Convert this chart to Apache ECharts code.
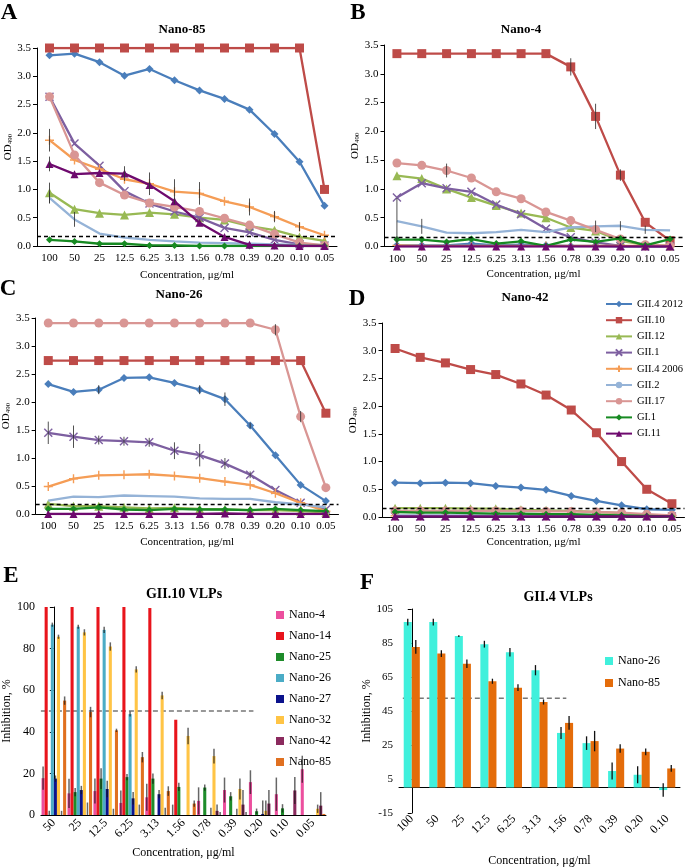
<!DOCTYPE html>
<html><head><meta charset="utf-8">
<script src="https://cdn.jsdelivr.net/npm/echarts@6/dist/echarts.min.js"></script>
<style>html,body{margin:0;padding:0;background:#fff}#c{width:687px;height:868px}</style>
</head><body><div id="c"></div><script>
const FONT = 'Liberation Serif';
// ---------- categories ----------
const concLine = ['100','50','25','12.5','6.25','3.13','1.56','0.78','0.39','0.20','0.10','0.05'];
const concE = ['50','25','12.5','6.25','3.13','1.56','0.78','0.39','0.20','0.10','0.05'];
const concF = ['100','50','25','12.5','6.25','3.13','1.56','0.78','0.39','0.20','0.10'];
const strainNames = ['GII.4 2012','GII.10','GII.12','GII.1','GII.4 2006','GII.2','GII.17','GI.1','GI.11'];
const panelTitles = ['Nano-85','Nano-4','Nano-26','Nano-42'];
const thresholds = [0.18, 0.16, 0.18, 0.16];
const yTicksLine = [0, 3.5, 0.5];
// ---------- Panel A: Nano-85 ----------
const A_GII4_2012 = [3.37,3.40,3.25,3.01,3.13,2.93,2.75,2.60,2.41,1.98,1.49,0.71];
const A_GII10 = [3.5,3.5,3.5,3.5,3.5,3.5,3.5,3.5,3.5,3.5,3.5,1.0];
const A_GII12 = [0.94,0.65,0.58,0.55,0.59,0.56,0.50,0.46,0.35,0.28,0.16,0.09];
const A_GII1 = [2.64,1.81,1.42,0.97,0.75,0.61,0.50,0.32,0.24,0.11,0.03,0.01];
const A_GII4_2006 = [1.87,1.52,1.36,1.18,1.10,0.96,0.93,0.79,0.69,0.52,0.34,0.19];
const A_GII2 = [0.85,0.47,0.22,0.15,0.11,0.08,0.06,0.05,0.04,0.03,0.02,0.02];
const A_GII17 = [2.64,1.61,1.12,0.90,0.76,0.69,0.61,0.49,0.37,0.21,0.06,0.01];
const A_GI1 = [0.11,0.08,0.04,0.04,0.01,0.01,0,0,0,0,0,0];
const A_GI11 = [1.45,1.27,1.29,1.28,1.08,0.79,0.41,0.16,0.02,0.01,0,0];
const A_err_GII4_2006 = [0.2,0,0,0,0.2,0.22,0.2,0,0.15,0.1,0.08,0];
const A_err_GI11 = [0.13,0,0,0.13,0,0,0,0,0,0,0,0];
const A_err_GII12 = [0.18,0,0,0,0,0,0,0,0,0,0,0];
const A_err_GII2 = [0.1,0.13,0,0,0,0,0,0,0,0,0,0];
// ---------- Panel B: Nano-4 ----------
const B_GII4_2012 = [0.02,0.02,0.02,0.05,0.02,0.03,0.02,0.01,0.01,0,0,0];
const B_GII10 = [3.35,3.35,3.35,3.35,3.35,3.35,3.35,3.12,2.26,1.24,0.42,0.10];
const B_GII12 = [1.23,1.18,1.00,0.85,0.71,0.58,0.50,0.33,0.27,0.10,0.03,0.01];
const B_GII1 = [0.85,1.10,1.01,0.95,0.73,0.56,0.31,0.16,0.07,0.01,0,0];
const B_GII4_2006 = [0.02,0.01,0.01,0.01,0.01,0.01,0.01,0.01,0.01,0.01,0.01,0.01];
const B_GII2 = [0.44,0.35,0.24,0.23,0.25,0.29,0.25,0.33,0.35,0.36,0.29,0.28];
const B_GII17 = [1.45,1.41,1.32,1.19,0.95,0.83,0.60,0.45,0.29,0.13,0.03,0.01];
const B_GI1 = [0.12,0.12,0.08,0.13,0.05,0.09,0.01,0.12,0.08,0.14,0.02,0.13];
const B_GI11 = [0,0,0,0,0,0,0,0,0,0,0,0];
const B_err_GII10 = [0,0,0,0,0,0,0,0.15,0.22,0.1,0,0];
const B_err_GII2 = [0.4,0.13,0,0,0,0,0,0,0.1,0.08,0.07,0];
const B_err_GII17 = [0,0,0.12,0,0,0,0,0,0,0,0,0];
// ---------- Panel C: Nano-26 ----------
const C_GII4_2012 = [2.32,2.18,2.22,2.43,2.44,2.34,2.22,2.05,1.58,1.05,0.52,0.23];
const C_GII10 = [2.74,2.74,2.74,2.74,2.74,2.74,2.74,2.74,2.74,2.74,2.74,1.80];
const C_GII12 = [0.18,0.14,0.14,0.12,0.10,0.11,0.09,0.08,0.07,0.07,0.05,0.03];
const C_GII1 = [1.45,1.38,1.32,1.30,1.28,1.13,1.05,0.90,0.70,0.43,0.20,0.08];
const C_GII4_2006 = [0.49,0.63,0.69,0.70,0.71,0.68,0.64,0.58,0.52,0.37,0.20,0.05];
const C_GII2 = [0.24,0.31,0.30,0.33,0.32,0.31,0.28,0.27,0.27,0.21,0.17,0.12];
const C_GII17 = [3.41,3.41,3.41,3.41,3.41,3.41,3.41,3.41,3.41,3.29,1.74,0.47];
const C_GI1 = [0.09,0.09,0.12,0.08,0.07,0.09,0.08,0.08,0.07,0.09,0.07,0.05];
const C_GI11 = [0,0,0,0,0,0,0,0.01,0,0,0,0];
const C_err_GII1 = [0.2,0.2,0.08,0.08,0.08,0.15,0.2,0.1,0.06,0,0,0];
const C_err_GII4_2012 = [0,0,0.08,0,0,0,0.08,0.12,0.05,0,0,0];
const C_err_GII17 = [0,0,0,0,0,0,0,0,0,0.1,0.1,0];
// ---------- Panel D: Nano-42 ----------
const D_GII4_2012 = [0.62,0.61,0.62,0.61,0.56,0.53,0.49,0.38,0.29,0.21,0.14,0.13];
const D_GII10 = [3.04,2.88,2.78,2.66,2.57,2.40,2.20,1.93,1.52,1.00,0.50,0.24];
const D_GII12 = [0.16,0.16,0.16,0.15,0.15,0.13,0.12,0.11,0.09,0.07,0.03,0.01];
const D_GII1 = [0.01,0.01,0.01,0.01,0.01,0.01,0.01,0.01,0.01,0.01,0.01,0.01];
const D_GII4_2006 = [0.02,0.02,0.02,0.02,0.02,0.02,0.02,0.02,0.02,0.02,0.02,0.02];
const D_GII2 = [0.03,0.03,0.03,0.03,0.03,0.03,0.03,0.03,0.03,0.03,0.02,0.02];
const D_GII17 = [0.11,0.11,0.11,0.11,0.11,0.11,0.10,0.10,0.09,0.08,0.05,0.03];
const D_GI1 = [0.09,0.08,0.08,0.07,0.06,0.06,0.05,0.05,0.04,0.03,0.02,0.01];
const D_GI11 = [0.01,0.01,0.01,0.01,0.01,0.01,0.01,0.01,0.01,0.01,0.01,0.01];
// ---------- Panel E: GII.10 VLPs ----------
const eNames = ['Nano-4','Nano-14','Nano-25','Nano-26','Nano-27','Nano-32','Nano-42','Nano-85'];
const E_Nano4 = [17.7,10.4,11.5,5.8,8.5,0,6.8,12,15.8,10,22];
const E_Nano14 = [100,100,100,100,99.5,45.8,0,0,0,0,0];
const E_Nano25 = [0,11,17.5,18.2,17.5,13.5,13.2,9,1.8,3.2,0];
const E_Nano26 = [91.5,90.5,89,48.5,0,0,0,0,0,0,0];
const E_Nano27 = [17.5,12,12.5,8,10,0,0,0,0.5,0,0];
const E_Nano32 = [85.7,87.8,81,70,57.5,38,28.3,12.5,2,0,3];
const E_Nano42 = [0,0,0,0,0,0,2,5,5.5,11.8,4.5];
const E_Nano85 = [55,49.5,40.7,27.8,11.5,5.5,0,0,0,0,0.5];
const E_Nano4_err = [5.6,7,6,6,6.5,5,6.5,6,5.7,8,6.5];
const E_Nano14_err = [0,0,0,0,0,0,0,0,0,0,0];
const E_Nano25_err = [2,2,5,1.5,2.5,2,1.5,2,1.3,2,0];
const E_Nano26_err = [1,1,1.5,1.2,0,0,0,0,0,0,0];
const E_Nano27_err = [1.5,2,4,3,2,0,3.5,3,6.5,0,0];
const E_Nano32_err = [1,1.5,2,1.5,1.8,4,3.5,5,5,0,2];
const E_Nano42_err = [2,6,3,5,3.5,0,3,7,6.5,6.5,6.5];
const E_Nano85_err = [2,2.5,0.8,2.5,2.3,1.5,1.5,1.5,0,0,0];
const thrE = 50;
// ---------- Panel F: GII.4 VLPs ----------
const fNames = ['Nano-26','Nano-85'];
const F_Nano26 = [97.3,97.3,89.1,84.3,79.6,69,32.1,26.1,9.7,7.5,-1.5];
const F_Nano85 = [82.7,78.8,72.8,62.5,58.7,50.3,38,27.3,22.9,21,11.2];
const F_Nano26_err = [2,2,0.5,2,2.5,3,3.5,4,5,5,4];
const F_Nano85_err = [4,2,2.5,1.5,2,1.5,4,6,2.5,2,2];
const thrF = 52.5;

// ---------- styles ----------
const strainColors = ['#4a7ebb','#be4b48','#98b954','#7d5fa0','#f59d56','#95b3d7','#d99694','#178a22','#6e0a6e'];
const X_PATH = 'path://M0,0L10,10M10,0L0,10';
const PLUS_PATH = 'path://M5,0L5,10M0,5L10,5';
const strainSymbols = ['diamond','rect','triangle',X_PATH,PLUS_PATH,'none','circle','diamond','triangle'];
const strainSizes = [8,9,9,8,9,0,9,7,8];
const eColors = ['#ec4f9e','#e8141c','#1e8c2a','#4bacc6','#0b128c','#ffc445','#8b2a5e','#e07020'];
const fColors = ['#40f0dc','#e46c0a'];

const panels = [
  {data:[A_GII4_2012,A_GII10,A_GII12,A_GII1,A_GII4_2006,A_GII2,A_GII17,A_GI1,A_GI11],
   errs:[[4,A_err_GII4_2006],[8,A_err_GI11],[2,A_err_GII12],[5,A_err_GII2]]},
  {data:[B_GII4_2012,B_GII10,B_GII12,B_GII1,B_GII4_2006,B_GII2,B_GII17,B_GI1,B_GI11],
   errs:[[1,B_err_GII10],[5,B_err_GII2],[6,B_err_GII17]]},
  {data:[C_GII4_2012,C_GII10,C_GII12,C_GII1,C_GII4_2006,C_GII2,C_GII17,C_GI1,C_GI11],
   errs:[[3,C_err_GII1],[0,C_err_GII4_2012],[6,C_err_GII17]]},
  {data:[D_GII4_2012,D_GII10,D_GII12,D_GII1,D_GII4_2006,D_GII2,D_GII17,D_GI1,D_GI11],
   errs:[]}
];

const grids = [
  {left:37, top:48, width:300, height:198},
  {left:384.5, top:45, width:298, height:201.5},
  {left:34.5, top:318, width:304, height:196},
  {left:382.5, top:323, width:302, height:194},
  {left:36, top:607, width:290, height:208},
  {left:399, top:609, width:281, height:233}
];
const xNameGaps = [24, 22, 23, 20];

const txt = {fontFamily: FONT, color: '#000'};
const xAxes = [], yAxes = [], series = [];

for (let p = 0; p < 4; p++) {
  xAxes.push({type:'category', gridIndex:p, data:concLine, boundaryGap:true,
    axisLine:{lineStyle:{color:'#000', width:1}}, axisTick:{show:false},
    axisLabel:{...txt, fontSize:11, interval:0, margin:7},
    name:'Concentration, μg/ml', nameLocation:'middle', nameGap:xNameGaps[p],
    nameTextStyle:{...txt, fontSize:11}});
  yAxes.push({type:'value', gridIndex:p, min:yTicksLine[0], max:yTicksLine[1], interval:yTicksLine[2],
    splitLine:{show:false}, axisLine:{show:true, lineStyle:{color:'#000'}},
    axisTick:{show:true, length:4, lineStyle:{color:'#000'}},
    axisLabel:{...txt, fontSize:11, formatter:v=>v.toFixed(1), margin:6},
    name:'{a|OD}{b|490}', nameLocation:'middle', nameGap:20,
    nameTextStyle:{...txt, rich:{a:{fontFamily:FONT, fontSize:11, color:'#000'}, b:{fontFamily:FONT, fontSize:7, color:'#000', verticalAlign:'bottom'}}}});
  const pd = panels[p];
  pd.data.forEach((arr, i) => {
    const c = strainColors[i];
    const isPath = typeof strainSymbols[i] === 'string' && strainSymbols[i].startsWith('path');
    const s = {type:'line', name:strainNames[i], xAxisIndex:p, yAxisIndex:p, data:arr,
      symbol:strainSymbols[i], symbolSize:strainSizes[i], showSymbol: strainSymbols[i] !== 'none',
      lineStyle:{color:c, width:2.3}, itemStyle:{color: isPath ? 'rgba(0,0,0,0)' : c, borderColor: c, borderWidth: isPath ? 1.4 : 0},
      z: 3 + i, emphasis:{disabled:true}};
    if (i === 0) {
      s.markLine = {silent:true, symbol:'none', label:{show:false}, z:20,
        lineStyle:{type:[4,3], color:'#000', width:1.3}, data:[{yAxis:thresholds[p]}]};
    }
    series.push(s);
  });
  const errData = [];
  pd.errs.forEach(([si, ea]) => {
    ea.forEach((e, k) => { if (e > 0) errData.push([k, pd.data[si][k], e]); });
  });
  if (errData.length) {
    series.push({type:'custom', xAxisIndex:p, yAxisIndex:p, data:errData, z:15, silent:true,
      encode:{x:0, y:1},
      renderItem:(params, api) => {
        const k = api.value(0), v = api.value(1), e = api.value(2);
        const p1 = api.coord([k, Math.max(0, v - e)]), p2 = api.coord([k, v + e]);
        return {type:'line', shape:{x1:p1[0], y1:p1[1], x2:p2[0], y2:p2[1]}, style:{stroke:'rgba(50,50,50,0.85)', lineWidth:1}};
      }});
  }
}

// ----- Panel E -----
xAxes.push({type:'category', gridIndex:4, data:concE, boundaryGap:true,
  axisLine:{lineStyle:{color:'#000'}}, axisTick:{show:false},
  axisLabel:{...txt, fontSize:12, rotate:45, interval:0, margin:6},
  name:'Concentration, μg/ml', nameLocation:'middle', nameGap:32, nameTextStyle:{...txt, fontSize:12}});
yAxes.push({type:'value', gridIndex:4, min:0, max:100, interval:20, splitLine:{show:false},
  axisLine:{show:true, lineStyle:{color:'#000'}}, axisTick:{show:true, length:4, lineStyle:{color:'#000'}},
  axisLabel:{...txt, fontSize:12, margin:6},
  name:'Inhibition, %', nameLocation:'middle', nameGap:22, nameTextStyle:{...txt, fontSize:12}});
// ----- Panel F -----
xAxes.push({type:'category', gridIndex:5, data:concF, boundaryGap:true,
  axisLine:{onZero:true, lineStyle:{color:'#000'}}, axisTick:{show:false},
  axisLabel:{...txt, fontSize:12, rotate:45, interval:0, margin:4},
  name:'Concentration, μg/ml', nameLocation:'middle', nameGap:42, nameTextStyle:{...txt, fontSize:12}});
yAxes.push({type:'value', gridIndex:5, min:-15, max:105, interval:20, splitLine:{show:false},
  axisLine:{show:true, lineStyle:{color:'#000'}}, axisTick:{show:true, length:4, lineStyle:{color:'#000'}},
  axisLabel:{...txt, fontSize:11, margin:6},
  name:'Inhibition, %', nameLocation:'middle', nameGap:25, nameTextStyle:{...txt, fontSize:12}});
// hidden value axes for partial dashed reference lines
xAxes.push({type:'value', gridIndex:4, min:-0.5, max:concE.length - 0.5, show:false});
xAxes.push({type:'value', gridIndex:5, min:-0.5, max:concF.length - 0.5, show:false});

function barErrSeries(xi, yi, vals, errs, k, n, gapFrac, color, width, clampZero) {
  return {type:'custom', xAxisIndex:xi, yAxisIndex:yi, z:10, silent:true,
    data: vals.map((v, i) => [i, v, errs[i]]), encode:{x:0, y:1},
    renderItem:(params, api) => {
      const i = api.value(0), v = api.value(1), e = api.value(2);
      if (!(e > 0)) return null;
      const band = api.size([1, 0])[0];
      const total = band * (1 - gapFrac), bw = total / n;
      const off = -total / 2 + bw * (k + 0.5);
      const lo = clampZero ? Math.max(0, v - e) : v - e;
      const p1 = api.coord([i, lo]), p2 = api.coord([i, v + e]);
      return {type:'line', shape:{x1:p1[0] + off, y1:p1[1], x2:p2[0] + off, y2:p2[1]}, style:{stroke:color, lineWidth:width}};
    }};
}

const eVals = [E_Nano4,E_Nano14,E_Nano25,E_Nano26,E_Nano27,E_Nano32,E_Nano42,E_Nano85];
const eErrs = [E_Nano4_err,E_Nano14_err,E_Nano25_err,E_Nano26_err,E_Nano27_err,E_Nano32_err,E_Nano42_err,E_Nano85_err];
const E_GAP = 0.05;
eVals.forEach((arr, k) => {
  series.push({type:'bar', name:eNames[k], xAxisIndex:4, yAxisIndex:4, data:arr,
    barGap:'0%', barCategoryGap:(E_GAP * 100) + '%', itemStyle:{color:eColors[k]}, emphasis:{disabled:true}});
});
eVals.forEach((arr, k) => series.push(barErrSeries(4, 4, arr, eErrs[k], k, 8, E_GAP, 'rgba(20,20,20,0.65)', 1.5, true)));
series.push({type:'line', xAxisIndex:6, yAxisIndex:4, data:[[-0.5, thrE], [7.7, thrE]], symbol:'none', silent:true,
  lineStyle:{type:[5,3], color:'#777', width:1.3}, z:1});

const fVals = [F_Nano26, F_Nano85];
const fErrs = [F_Nano26_err, F_Nano85_err];
const F_GAP = 0.37;
fVals.forEach((arr, k) => {
  series.push({type:'bar', name:fNames[k] + ' (F)', xAxisIndex:5, yAxisIndex:5, data:arr,
    barGap:'0%', barCategoryGap:(F_GAP * 100) + '%', itemStyle:{color:fColors[k]}, emphasis:{disabled:true}});
});
fVals.forEach((arr, k) => series.push(barErrSeries(5, 5, arr, fErrs[k], k, 2, F_GAP, '#111', 1.3, false)));
series.push({type:'line', xAxisIndex:7, yAxisIndex:5, data:[[-0.35, thrF], [6.05, thrF]], symbol:'none', silent:true,
  lineStyle:{type:[5,3], color:'#777', width:1.3}, z:1});

// ----- texts -----
const letterStyle = {fontFamily:FONT, fontSize:23, fontWeight:'bold', fill:'#000', textAlign:'center', textVerticalAlign:'middle'};
const titleStyle = {fontFamily:FONT, fontSize:13, fontWeight:'bold', fill:'#000', textAlign:'center', textVerticalAlign:'middle'};
const letters = [['A',9,13],['B',358,13],['C',8,289],['D',357,299],['E',11,576],['F',367,583]];
const titlePos = [[182,30],[521,30],[179,295],[525,298]];
const graphics = [];
letters.forEach(([t,x,y]) => graphics.push({type:'text', x, y, style:{...letterStyle, text:t}}));
panelTitles.forEach((t, i) => graphics.push({type:'text', x:titlePos[i][0], y:titlePos[i][1], style:{...titleStyle, text:t}}));
graphics.push({type:'text', x:184, y:594, style:{...titleStyle, fontSize:14, text:'GII.10 VLPs'}});
graphics.push({type:'text', x:558, y:597, style:{...titleStyle, fontSize:14, text:'GII.4 VLPs'}});

const option = {
  animation:false,
  backgroundColor:'#fff',
  grid:grids.map(g => ({...g, containLabel:false})),
  xAxis:xAxes, yAxis:yAxes, series,
  legend:[
    {orient:'vertical', left:605, top:298, data:strainNames, itemWidth:26, itemHeight:8, itemGap:4.2,
     padding:0, selectedMode:false, textStyle:{...txt, fontSize:10.5, lineHeight:12}},
    {orient:'vertical', left:276, top:608, data:eNames, icon:'rect', itemWidth:8, itemHeight:8, itemGap:7,
     padding:0, selectedMode:false, textStyle:{...txt, fontSize:12, lineHeight:14}},
    {orient:'vertical', left:605, top:654, data:fNames.map(n => n + ' (F)'), icon:'rect', itemWidth:8, itemHeight:8, itemGap:8,
     padding:0, selectedMode:false, formatter:n => n.replace(' (F)', ''), textStyle:{...txt, fontSize:12, lineHeight:14}}
  ],
  graphic:graphics
};
const chart = echarts.init(document.getElementById('c'), null, {renderer:'canvas'});
chart.setOption(option);
</script></body></html>
